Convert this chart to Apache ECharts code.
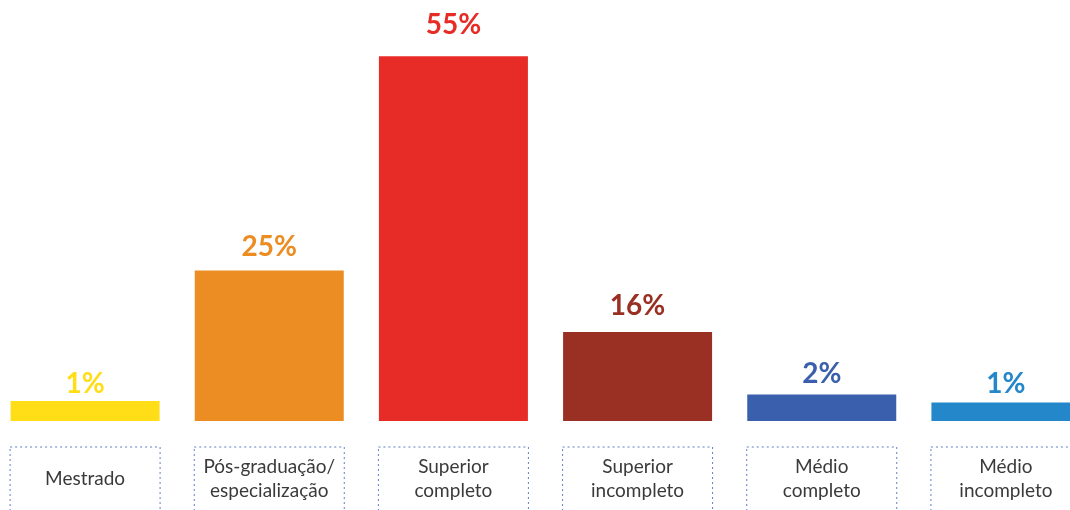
<!DOCTYPE html>
<html>
<head>
<meta charset="utf-8">
<script src="https://cdn.jsdelivr.net/npm/echarts@6/dist/echarts.min.js"></script>
<style>
    html, body { margin: 0; padding: 0; background: #fff; overflow: hidden; }
    #chart { width: 1105px; height: 510px; margin-left: -7px; }
</style>
</head>
<body>
<div id="chart"></div>
<script>
// 类别
const categories = ['Mestrado', 'Pós-graduação/\nespecialização', 'Superior\ncompleto', 'Superior\nincompleto', 'Médio\ncompleto', 'Médio\nincompleto'];
// 标注的百分比
const shares = [1, 25, 55, 16, 2, 1];
// 图中柱子实际画出的高度（信息图，不按比例）
const barLengths = [3.0, 22.7, 55, 13.4, 4.0, 2.8];
const barColors = ['#FFDD17', '#EB8D22', '#E72B27', '#9A2F23', '#3A5FAC', '#2487C9'];
// 标签与柱顶的距离
const labelDistances = [3, 9, 17, 12, 6, 4];

function initChart() {
    const chart = echarts.init(document.getElementById('chart'));
    const option = {
        animation: false,
        grid: {
            left: 0,
            right: 0,
            top: 23,
            bottom: 89,
            outerBoundsMode: 'none'
        },
        xAxis: {
            type: 'category',
            data: categories.map(function (name) {
                const twoLines = name.indexOf('\n') >= 0;
                return {
                    value: name,
                    textStyle: {
                        padding: twoLines ? [8, 0, 16, 0] : [20, 0, 28, 0]
                    }
                };
            }),
            axisLine: { show: false },
            axisTick: { show: false },
            axisLabel: {
                interval: 0,
                margin: 26,
                width: 150,
                align: 'center',
                fontFamily: 'Lato',
                fontSize: 19,
                lineHeight: 24,
                color: '#3a3a3a',
                borderColor: '#5f7fc6',
                borderWidth: 1,
                borderType: [2, 3]
            }
        },
        yAxis: {
            type: 'value',
            min: 0,
            max: 60,
            show: false
        },
        series: [
            {
                type: 'bar',
                barWidth: 149,
                data: barLengths.map(function (v, i) {
                    return {
                        value: v,
                        itemStyle: { color: barColors[i] },
                        label: { color: barColors[i], distance: labelDistances[i] }
                    };
                }),
                label: {
                    show: true,
                    position: 'top',
                    fontFamily: 'Lato',
                    fontWeight: 'bold',
                    fontSize: 28,
                    formatter: function (p) {
                        return shares[p.dataIndex] + '%';
                    }
                }
            }
        ]
    };
    chart.setOption(option);
}

document.addEventListener('DOMContentLoaded', function () {
    initChart();
});
</script>
</body>
</html>
